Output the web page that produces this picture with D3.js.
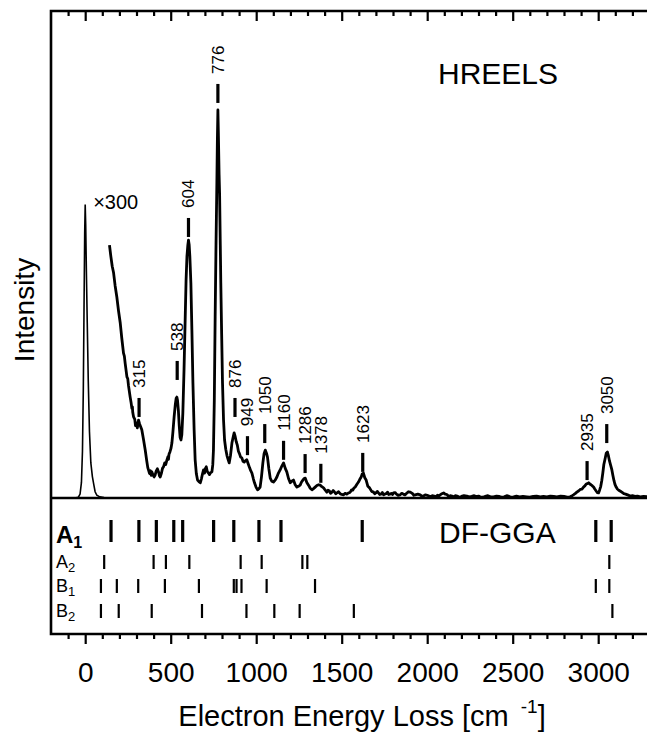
<!DOCTYPE html>
<html>
<head>
<meta charset="utf-8">
<script src="https://cdn.jsdelivr.net/npm/d3@7/dist/d3.min.js"></script>
<style>
body { margin: 0; background: #fff; }
svg { display: block; font-family: "Liberation Sans", Arial, Helvetica, sans-serif; }
</style>
</head>
<body>
<script>
// elastic peak, x1  [cm-1, intensity]
const elastic = [[-60,0],[-40,0.2],[-30,1],[-22,4],[-16,12],[-11,28],[-7,48],[-3,68],[0,75.3],[3,70],[7,58],[12,45],[18,30],[25,17],[33,9],[42,5.5],[50,3.5],[58,1.6],[68,0.7],[85,0.3],[110,0.1],[140,0]];

// loss region, x300  [cm-1, intensity]
const loss = [[142,64.9],[150,62],[158,59.5],[166,57.8],[175,54.5],[185,51.6],[195,48],[205,44.9],[214,41],[224,37.2],[229,36.4],[234,34.5],[244,31.1],[249,30.6],[253,28.9],[263,25.9],[268,24.6],[273,23],[276,23.4],[278,22],[283,20.8],[290,20.2],[294,18.6],[298,19.3],[305,18],[312,20],[318,19],[325,18.2],[331,17.5],[341,15],[351,12.3],[360,9.5],[366,7.8],[370,7.2],[376,6.3],[382,7],[386,5.8],[390,6.7],[396,6],[403,5.4],[409,5.9],[415,6.9],[422,7.5],[429,6.7],[435,5.6],[439,5.4],[446,6.4],[452,7.6],[458,8],[465,9],[471,8.6],[478,9.8],[484,10.6],[487,9.9],[490,11.2],[496,11.9],[502,12.8],[507,14.1],[513,17],[520,20.8],[527,24],[532,25.6],[536,25.9],[540,25],[545,22.4],[550,18.5],[555,15.6],[560,14.9],[565,16.2],[571,21.8],[578,33],[585,46.5],[590,56],[595,62],[600,64.8],[604,66.2],[608,65],[612,62],[618,55.2],[624,43],[630,29.5],[637,17.5],[643,9.8],[650,6.2],[657,4.6],[665,4.2],[673,3.9],[680,5],[686,6.2],[692,7.2],[698,6.4],[703,7.6],[708,8],[714,6.8],[721,6.4],[727,6],[733,6.5],[741,6.7],[746,8.5],[750,12.3],[755,25],[760,46.5],[765,65],[770,80.9],[773,92],[776,99.6],[779,93],[783,83],[786,78],[790,65],[793,55.2],[798,42],[803,29.5],[809,20],[815,14.9],[822,12.5],[829,10.9],[835,10],[842,9],[850,11],[858,14.1],[865,15.6],[871,16.7],[877,15.8],[883,14.5],[890,13.5],[896,12],[902,11.4],[909,10.5],[916,10.3],[923,9.4],[930,9.2],[937,9.6],[945,9.8],[953,8.8],[961,7.8],[968,7],[975,6.4],[983,5],[990,3.9],[999,2.8],[1008,2.1],[1016,2.4],[1023,2.8],[1031,5.5],[1039,9],[1046,11.4],[1053,12.3],[1060,11.5],[1066,10.5],[1074,7.5],[1082,5.1],[1091,4.3],[1101,4.1],[1111,4.6],[1121,5.4],[1130,6.4],[1140,7.2],[1150,8.2],[1160,9],[1170,7.6],[1179,6.7],[1189,5],[1199,3.9],[1208,4.3],[1218,4.6],[1228,3.4],[1238,2.8],[1247,3],[1257,3.3],[1265,4.1],[1273,4.6],[1280,5],[1287,5.1],[1296,4],[1306,3.3],[1316,2.5],[1326,2.1],[1335,2.4],[1345,2.8],[1355,3.2],[1365,3.4],[1374,3.3],[1384,2.9],[1394,2.6],[1404,2],[1413,1.5],[1420,2],[1428,1.8],[1435,1.2],[1443,1.5],[1450,1.9],[1457,1.6],[1465,1.1],[1472,1.3],[1482,1.6],[1491,1.1],[1500,0.9],[1511,0.8],[1520,1.2],[1530,1],[1540,1.3],[1550,1.5],[1558,2.1],[1565,2],[1572,2.6],[1579,2.8],[1590,3.6],[1598,4.1],[1606,4.8],[1614,5.4],[1620,6.2],[1627,6.4],[1635,5.2],[1643,4.6],[1653,3],[1663,2.6],[1675,1.7],[1686,1.5],[1693,1.1],[1700,1.3],[1708,1.7],[1715,1.3],[1722,0.9],[1730,1],[1738,1.4],[1745,0.8],[1752,1],[1760,1.1],[1768,1.5],[1775,0.9],[1783,1],[1790,1.2],[1797,0.9],[1803,1.3],[1812,1.4],[1820,1],[1830,0.7],[1842,0.8],[1851,1.2],[1860,1],[1870,0.8],[1880,1.2],[1890,1.6],[1901,1.5],[1908,1.3],[1915,1.1],[1922,0.7],[1930,0.8],[1945,1],[1959,0.8],[1970,0.4],[1980,0.6],[1990,0.8],[2000,0.7],[2010,0.5],[2018,0.3],[2030,0.6],[2040,0.5],[2050,0.3],[2060,0.7],[2068,0.5],[2076,0.8],[2086,1.1],[2096,1.3],[2105,1],[2115,0.9],[2125,0.4],[2135,0.6],[2145,0.5],[2154,0.3],[2165,0.6],[2175,0.5],[2188,0.2],[2200,0.4],[2215,0.6],[2232,0.5],[2245,0.3],[2260,0.4],[2275,0.6],[2290,0.3],[2300,0.5],[2310,0.3],[2325,0.2],[2340,0.4],[2355,0.6],[2370,0.3],[2388,0.3],[2405,0.5],[2420,0.4],[2435,0.2],[2450,0.3],[2465,0.6],[2480,0.4],[2492,0.2],[2505,0.3],[2522,0.5],[2540,0.3],[2560,0.4],[2583,0.3],[2600,0.2],[2620,0.4],[2640,0.5],[2661,0.3],[2680,0.4],[2700,0.3],[2720,0.5],[2740,0.4],[2758,0.3],[2780,0.5],[2800,0.4],[2818,0.2],[2836,0.3],[2848,0.6],[2855,0.8],[2865,1.1],[2875,1.5],[2885,1.8],[2895,2.2],[2905,2.3],[2914,2.8],[2922,3.1],[2930,3.6],[2937,3.7],[2944,3.9],[2951,3.6],[2958,3.4],[2966,3.1],[2973,2.8],[2980,2.3],[2988,1.8],[2995,1.4],[3002,1.3],[3008,2],[3015,3],[3021,4.5],[3027,6.4],[3033,8.6],[3040,10],[3047,11.5],[3054,11.8],[3060,10.8],[3066,9.5],[3073,8.4],[3080,7.2],[3086,5.8],[3092,4.5],[3098,3.5],[3105,2.8],[3112,2.3],[3120,2],[3128,1.8],[3138,1.5],[3150,1.1],[3160,1],[3172,0.8],[3187,0.5],[3200,0.6],[3215,0.4],[3230,0.5],[3246,0.3],[3265,0.4],[3290,0.3]];

// labelled peaks and height of their marker
const peakPos = [315, 538, 604, 776, 876, 949, 1050, 1160, 1286, 1378, 1623, 2935, 3050];
const peakMark = [20.8, 30.3, 67, 101.4, 20.8, 11, 14.1, 9.8, 6.4, 3.9, 6.7, 4.6, 14.1];

// DF-GGA modes by symmetry
const symRows = ["A1", "A2", "B1", "B2"];
const a1Modes = [151, 314, 416, 518, 570, 751, 869, 1016, 1145, 1620, 2986, 3076];
const a2Modes = [111, 400, 472, 609, 909, 1032, 1270, 1299, 3065];
const b1Modes = [92, 185, 310, 466, 665, 869, 885, 914, 1061, 1344, 2986, 3065];
const b2Modes = [92, 196, 389, 683, 943, 1106, 1254, 1571, 3083];

const majorTicks = [0, 500, 1000, 1500, 2000, 2500, 3000];
const minorTicks = d3.range(-100, 3300, 100).filter(d => d % 500 !== 0);

let width = 647, height = 733;
let frameL = 51, frameT = 11, divY = 498, frameB = 634;

let svg = d3.select("body").append("svg")
.attr("width", width)
.attr("height", height);

let x = d3.scaleLinear().domain([-200, 3300]).range([frameL, frameL + 3500 * 0.171]);
let y = d3.scaleLinear().domain([0, 125]).range([divY, frameT]);

// spectra
let line = d3.line().x(d => x(d[0])).y(d => y(d[1]));

svg.append("path")
.datum(elastic)
.attr("fill", "none")
.attr("stroke", "#000")
.attr("stroke-width", 1.6)
.attr("d", line);

svg.append("path")
.datum(loss)
.attr("fill", "none")
.attr("stroke", "#000")
.attr("stroke-width", 2.8)
.attr("stroke-linejoin", "round")
.attr("d", line);

// peak markers
let peaks = svg.append("g")
.selectAll("g")
.data(peakPos)
.enter()
.append("g")
.attr("transform", (d, i) => "translate(" + x(d) + "," + y(peakMark[i]) + ")");

peaks.append("line")
.attr("y1", 0).attr("y2", -19)
.attr("stroke", "#000")
.attr("stroke-width", 3.2);

peaks.append("text")
.attr("transform", "translate(0,-29) rotate(-90)")
.attr("dy", "0.35em")
.attr("font-size", 17)
.text(d => d);

svg.append("text")
.attr("x", x(0) + 8)
.attr("y", y(d3.max(elastic, d => d[1])) + 4)
.attr("font-size", 20)
.text("\u00d7300");

svg.append("text")
.attr("x", 438).attr("y", 84)
.attr("font-size", 30)
.text("HREELS");

// DF-GGA panel
let rowY = d3.scaleOrdinal().domain(symRows).range([531, 562, 586, 611]);
let modes = [a1Modes, a2Modes, b1Modes, b2Modes];

symRows.forEach((r, k) => {
	let big = k === 0;
	svg.append("g")
	.selectAll("line")
	.data(modes[k])
	.enter()
	.append("line")
	.attr("x1", d => x(d)).attr("x2", d => x(d))
	.attr("y1", rowY(r) - (big ? 11 : 7))
	.attr("y2", rowY(r) + (big ? 11 : 7))
	.attr("stroke", "#000")
	.attr("stroke-width", big ? 3.2 : 2.2);

	let t = svg.append("text")
	.attr("x", 56)
	.attr("y", rowY(r) + (big ? 12 : 6))
	.attr("font-size", big ? 24 : 18)
	.attr("font-weight", big ? "bold" : "normal")
	.text(r[0]);
	t.append("tspan")
	.attr("dy", big ? 5 : 4)
	.attr("font-size", big ? 16 : 13)
	.text(r[1]);
});

svg.append("text")
.attr("x", 439).attr("y", 543)
.attr("font-size", 30)
.text("DF-GGA");

// axes
let axTop = svg.append("g").attr("transform", "translate(0," + frameT + ")");
axTop.call(d3.axisBottom(x).tickValues(minorTicks).tickSize(5).tickFormat(""));
let axTopMaj = svg.append("g").attr("transform", "translate(0," + frameT + ")");
axTopMaj.call(d3.axisBottom(x).tickValues(majorTicks).tickSize(10).tickFormat(""));

let axBot = svg.append("g").attr("transform", "translate(0," + frameB + ")");
axBot.call(d3.axisBottom(x).tickValues(minorTicks).tickSize(5).tickFormat(""));
let axBotMaj = svg.append("g").attr("transform", "translate(0," + frameB + ")");
axBotMaj.call(d3.axisBottom(x).tickValues(majorTicks).tickSize(10).tickPadding(18).tickFormat(d3.format("d")));

svg.selectAll(".domain").remove();
svg.selectAll(".tick line").attr("stroke-width", 2.2);
axBotMaj.selectAll("text")
.attr("font-size", 28)
.attr("font-family", "Liberation Sans, Arial, sans-serif")
.attr("fill", "#000");

// frame
svg.append("path")
.attr("fill", "none")
.attr("stroke", "#000")
.attr("stroke-width", 2.6)
.attr("d", "M" + width + "," + frameT + "H" + frameL + "V" + frameB + "H" + width
	+ "M" + frameL + "," + divY + "H" + width);

// axis titles
svg.append("text")
.attr("transform", "translate(34,310) rotate(-90)")
.attr("text-anchor", "middle")
.attr("font-size", 28)
.text("Intensity");

let xt = svg.append("text")
.attr("x", 362).attr("y", 726)
.attr("text-anchor", "middle")
.attr("font-size", 29)
.text("Electron Energy Loss [cm");
xt.append("tspan").attr("dx", 12).attr("dy", -13).attr("font-size", 19).text("-1");
xt.append("tspan").attr("dy", 13).text("]");
</script>
</body>
</html>
